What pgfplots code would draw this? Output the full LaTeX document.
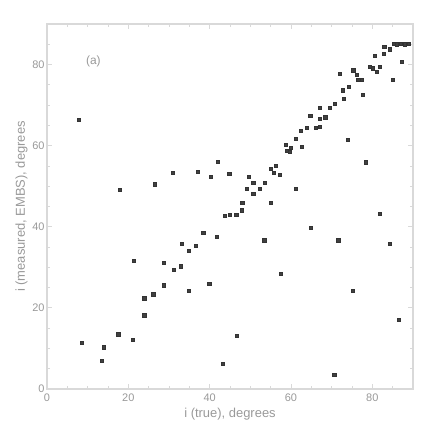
\documentclass[border=0pt]{standalone}
\usepackage{pgfplots}
\pgfplotsset{compat=1.18}
\usepackage{fontspec}
\setmainfont{Liberation Sans}
\definecolor{axisgray}{gray}{0.85}
\definecolor{textgray}{gray}{0.6}
\begin{document}
\begin{tikzpicture}
\path[use as bounding box] (0,0) rectangle (436bp,436bp);
\begin{axis}[
  at={(47bp,47bp)}, anchor=south west,
  scale only axis, width=366bp, height=365bp,
  xmin=0, xmax=90, ymin=0, ymax=90,
  xtick={0,20,40,60,80}, ytick={0,20,40,60,80},
  minor xtick={5,10,15,25,30,35,45,50,55,65,70,75,85},
  minor ytick={5,10,15,25,30,35,45,50,55,65,70,75,85},
  tick align=inside,
  major tick length=5bp, minor tick length=3bp,
  axis line style={axisgray, line width=1.2pt},
  every tick/.style={axisgray, line width=0.8pt},
  tick label style={textgray, font=\fontsize{11}{12}\selectfont},
  xticklabel style={yshift=-1bp},
  yticklabel style={xshift=1bp},
  /pgf/number format/assume math mode=true,
  xlabel={i (true), degrees},
  ylabel={i (measured, EMBS), degrees},
  label style={textgray, font=\fontsize{13}{14}\selectfont},
  xlabel style={yshift=0bp},
  ylabel style={yshift=-2bp},
  clip=false,
]
\addplot[only marks, mark=square*, mark size=1.6bp, draw=black!80, fill=black!75] coordinates {
(7.7,66.5) (8.5,11.5) (13.4,7.0) (13.9,10.3) (17.5,13.5) (17.8,49.2)
(21.0,12.1) (21.3,31.6) (23.9,22.4) (23.9,18.2) (26.1,23.4) (26.4,50.5)
(28.6,25.6) (28.6,31.1) (30.9,53.4) (31.1,29.5) (32.9,30.3) (33.1,35.9)
(34.9,24.2) (34.9,34.1) (36.6,35.3) (37.0,53.6) (38.4,38.6) (39.9,25.9)
(40.2,52.4) (41.7,37.5) (41.9,56.0) (43.2,6.3) (46.7,13.1) (43.6,42.7)
(45.0,43.0) (46.5,43.0) (47.9,44.1) (48.0,45.9) (44.8,53.1) (49.5,52.4)
(50.7,50.9) (53.6,50.9) (49.1,49.3) (52.4,49.3) (50.7,48.1) (55.1,45.9)
(53.4,36.7) (57.4,28.5) (55.1,54.4) (56.3,55.0) (57.3,52.8) (55.8,53.4)
(58.7,60.3) (58.9,58.7) (59.7,58.5) (60.0,59.5) (61.2,49.4) (61.2,61.8)
(62.6,59.7) (62.4,63.7) (63.8,64.5) (66.1,64.5) (67.1,64.7) (67.1,66.7)
(64.7,67.3) (68.4,67.0) (69.6,69.4) (67.1,69.4) (70.8,70.4) (72.7,73.7)
(74.1,74.5) (72.9,71.6) (72.0,77.8) (75.3,78.6) (76.1,77.4) (76.5,76.2)
(77.4,76.2) (77.6,72.5) (73.9,61.5) (78.4,55.9) (81.9,43.3) (79.3,79.5)
(80.1,79.1) (81.1,78.3) (80.6,82.1) (82.7,82.7) (82.9,84.4) (84.2,83.8)
(85.2,85.2) (86.0,85.0) (87.0,85.2) (88.0,85.0) (89.0,85.2) (85.0,76.2)
(87.2,80.7) (81.9,79.5) (64.9,39.8) (71.6,36.7) (84.2,35.9) (75.2,24.2)
(86.4,17.0) (70.6,3.6)
};
\node[textgray, font=\fontsize{12}{13}\selectfont] at (axis cs:11.4,80.8) {(a)};
\end{axis}
\end{tikzpicture}
\end{document}
